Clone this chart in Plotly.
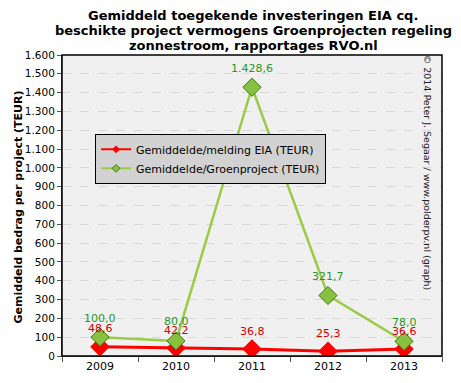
import plotly.graph_objects as go

years = ["2009", "2010", "2011", "2012", "2013"]
eia = [48.6, 42.2, 36.8, 25.3, 36.6]
groen = [100.0, 80.0, 1428.6, 321.7, 78.0]
y_ticks = list(range(0, 1700, 100))
title_lines = ["Gemiddeld toegekende investeringen EIA cq.",
               "beschikte project vermogens Groenprojecten regeling",
               "zonnestroom, rapportages RVO.nl"]

RED = "#ff0000"
GREEN_LINE = "#99cc44"

def fmt(v):
    s = f"{v:,.1f}"
    return s.replace(",", "X").replace(".", ",").replace("X", ".")

fig = go.Figure()
fig.add_trace(go.Scatter(
    x=years, y=eia, name="Gemiddelde/melding EIA (TEUR)", showlegend=False,
    mode="lines+markers",
    line=dict(color=RED, width=3),
    marker=dict(symbol="diamond", size=15, color=RED),
))
fig.add_trace(go.Scatter(
    x=years, y=groen, name="Gemiddelde/Groenproject (TEUR)", showlegend=False,
    mode="lines+markers",
    line=dict(color=GREEN_LINE, width=2.5),
    marker=dict(symbol="diamond", size=14, color="#88c040", line=dict(color="#3a7a10", width=1)),
))
# legend entries with small symbols
fig.add_trace(go.Scatter(x=[years[0]], y=[None], name="Gemiddelde/melding EIA (TEUR)",
                         mode="lines+markers", line=dict(color=RED, width=2),
                         marker=dict(symbol="diamond", size=6, color=RED)))
fig.add_trace(go.Scatter(x=[years[0]], y=[None], name="Gemiddelde/Groenproject (TEUR)",
                         mode="lines+markers", line=dict(color=GREEN_LINE, width=2),
                         marker=dict(symbol="diamond", size=6, color="#88c040",
                                     line=dict(color="#3a7a10", width=1))))

annotations = [
    dict(text="Gemiddeld bedrag per project (TEUR)", textangle=-90, xref="paper", yref="paper",
         x=-0.137, y=0.495, showarrow=False, font=dict(size=11, weight="bold")),
    dict(text="© 2014 Peter J. Segaar / www.polderpv.nl (graph)", textangle=90, xref="paper", yref="paper",
         x=0.982, y=0.61, showarrow=False, font=dict(size=9.5, color="#222")),
]
for line, yy in zip(title_lines, [15, 31, 46]):
    annotations.append(dict(text=line, xref="paper", yref="paper", x=0.503, y=(356 - yy) / 301,
                            xanchor="center", yanchor="middle", showarrow=False,
                            font=dict(family="DejaVu Sans", size=13, color="black", weight="bold")))
# category axis annotations use the category index as x
for i, v in enumerate(eia):
    annotations.append(dict(text=fmt(v), x=i, y=v, xref="x", yref="y", yshift=18, showarrow=False,
                            font=dict(color="#d00000", size=11)))
for i, v in enumerate(groen):
    annotations.append(dict(text=fmt(v), x=i, y=v, xref="x", yref="y", yshift=19, showarrow=False,
                            font=dict(color="#229922", size=11)))

# page body has an 8px margin, so the figure is sized/offset to compensate
fig.update_layout(
    width=453, height=375,
    margin=dict(l=54, r=19, t=47, b=27, autoexpand=False),
    paper_bgcolor="white", plot_bgcolor="#f0f0f0",
    separators=",.",
    font=dict(family="DejaVu Sans", size=11, color="black"),
    showlegend=True,
    legend=dict(x=0.087, y=0.738, xanchor="left", yanchor="top",
                bgcolor="#d2d2d2", bordercolor="black", borderwidth=1,
                font=dict(size=11, color="black"), tracegroupgap=4),
    xaxis=dict(type="category", categoryorder="array", categoryarray=years, automargin=False,
               range=[-0.5, len(years) - 0.5], showgrid=False, ticks="outside", tickson="boundaries",
               ticklen=5, tickcolor="#555", showline=True, linecolor="#555", linewidth=1,
               mirror=False, zeroline=False),
    yaxis=dict(range=[0, 1600], tickvals=y_ticks, tickformat=",d", ticks="outside", ticklen=4,
               automargin=False, tickfont=dict(size=10.5),
               tickcolor="#555", showline=True, linecolor="#555", linewidth=1,
               gridcolor="#d8d8d8", griddash="dash", zeroline=False),
    annotations=annotations,
    shapes=[dict(type="rect", xref="paper", yref="paper", x0=0, x1=1, y0=0, y1=1,
                 line=dict(color="black", width=1.5))],
)
fig.write_html("out.html")
